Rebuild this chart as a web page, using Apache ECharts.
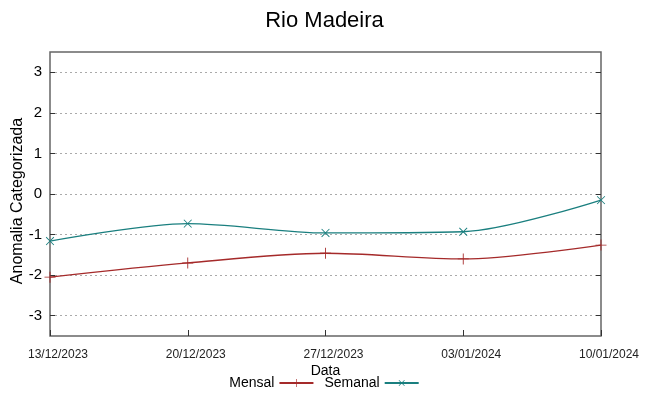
<!DOCTYPE html>
<html><head><meta charset="utf-8">
<script src="https://cdn.jsdelivr.net/npm/echarts@6/dist/echarts.min.js"></script>
<style>html,body{margin:0;padding:0;background:#fff}#c{width:649px;height:396px}</style>
</head><body><div id="c"></div>
<script>
const dates = ['13/12/2023','20/12/2023','27/12/2023','03/01/2024','10/01/2024'];
const mensal = [-2.05, -1.70, -1.46, -1.60, -1.26];
const semanal = [-1.16, -0.73, -0.96, -0.93, -0.15];
const yTicks = [-3,-2,-1,0,1,2,3];

const plus = 'path://M0,4.6h10v0.8h-10zM4.6,0h0.8v10h-0.8z';
const font = 'Liberation Sans, Arial, sans-serif';
const chart = echarts.init(document.getElementById('c'));
chart.setOption({
  animation:false,
  backgroundColor:'#fff',
  title:{text:'Rio Madeira',left:'center',top:5,textStyle:{fontFamily:font,fontWeight:'normal',fontSize:22,color:'#000'}},
  legend:{bottom:1,left:'center',align:'right',itemWidth:34,itemHeight:10,itemGap:10,
    textStyle:{fontFamily:font,fontSize:14,color:'#000'},
    data:[{name:'Mensal'},{name:'Semanal'}]},
  grid:{left:50,right:48,top:52,bottom:60,containLabel:false,outerBoundsMode:'none',
    show:true,borderColor:'#666',borderWidth:1.5,backgroundColor:'transparent'},
  xAxis:{type:'category',data:dates,boundaryGap:false,
    name:'Data',nameLocation:'middle',nameGap:28,nameMoveOverlap:false,
    nameTextStyle:{fontFamily:font,fontSize:14,color:'#000'},
    axisLine:{show:false,onZero:false},axisTick:{inside:true,length:6,lineStyle:{color:'#333'}},
    axisLabel:{fontFamily:font,fontSize:12,color:'#222',margin:13,padding:[0,0,0,16]},
    splitLine:{show:false}},
  yAxis:[{type:'value',min:-3.5,max:3.5,
    name:'Anomalia Categorizada',nameLocation:'middle',nameGap:24,nameMoveOverlap:false,
    nameTextStyle:{fontFamily:font,fontSize:16,color:'#000',padding:[0,14,0,0]},
    axisLine:{show:false},
    axisTick:{show:true,inside:true,length:5,lineStyle:{color:'#333'},customValues:yTicks},
    axisLabel:{fontFamily:font,fontSize:15,color:'#000',margin:8,customValues:yTicks},
    splitLine:{show:true,lineStyle:{color:'#aaa',type:[2,3],width:1}}},
    {type:'value',min:-3.5,max:3.5,position:'right',axisLine:{show:false},
     axisLabel:{show:false},
     axisTick:{show:true,inside:true,length:5,lineStyle:{color:'#333'},customValues:yTicks},
     splitLine:{show:false}}],
  series:[
    {name:'Mensal',type:'line',data:mensal,smooth:0.3,symbol:plus,symbolSize:11,
     lineStyle:{color:'#a52a2a',width:1.3},itemStyle:{color:'#a52a2a'}},
    {name:'Semanal',type:'line',data:semanal,smooth:0.3,symbol:plus,symbolRotate:45,symbolSize:11,
     lineStyle:{color:'#1a7f7f',width:1.3},itemStyle:{color:'#1a7f7f'}}
  ]
});
</script></body></html>
